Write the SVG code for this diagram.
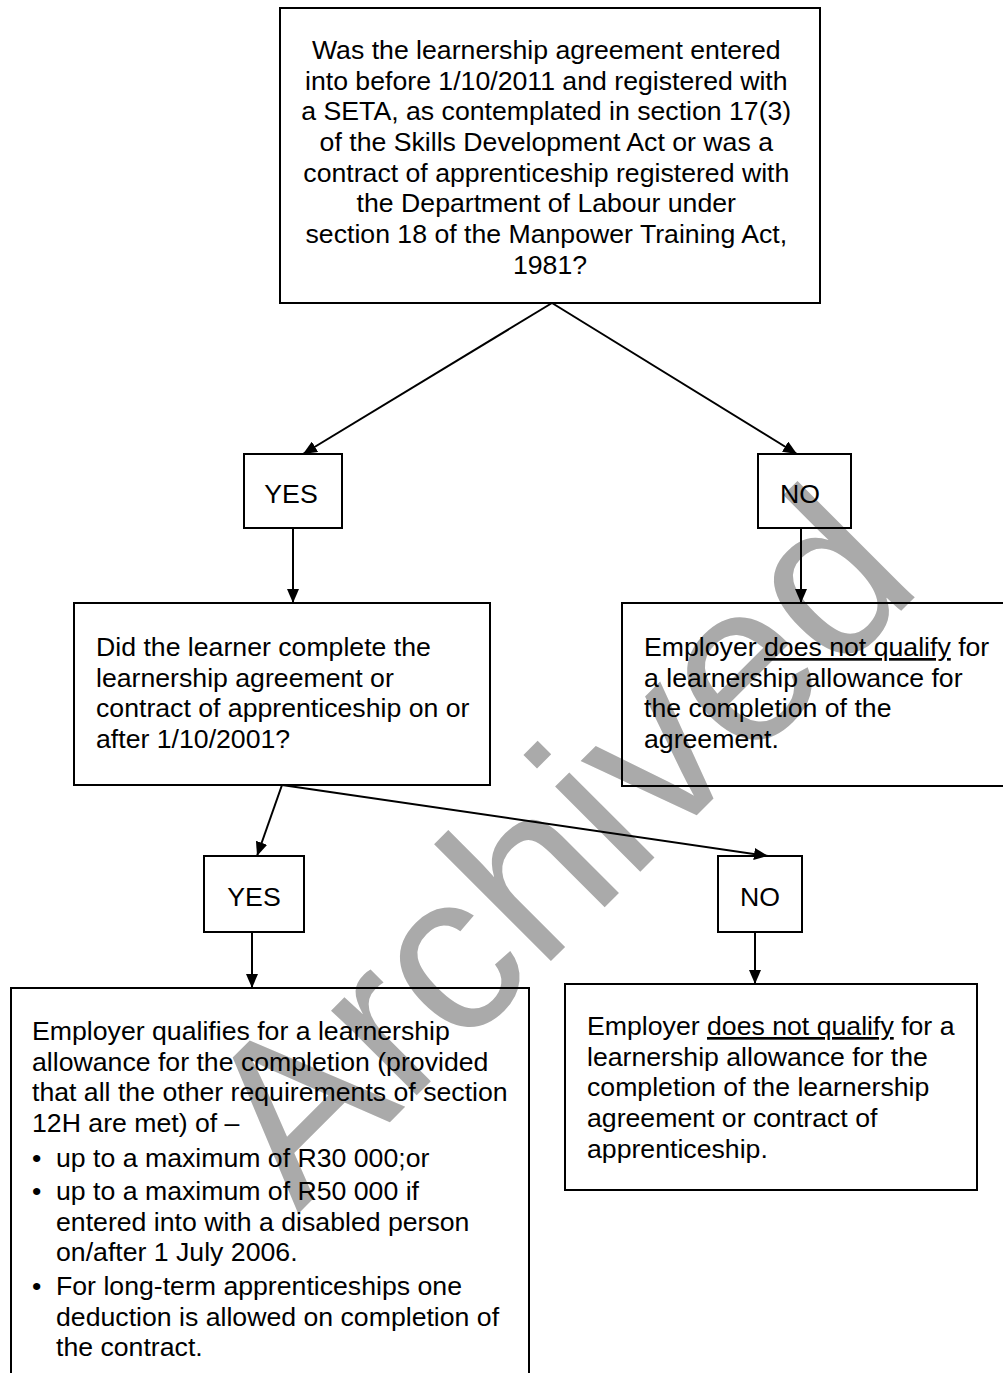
<svg xmlns="http://www.w3.org/2000/svg" width="1003" height="1373" viewBox="0 0 1003 1373">
<defs>
<style>
.box{fill:none;stroke:#000;stroke-width:2}
.t{font-family:"Liberation Sans",Arial,sans-serif;font-size:26.67px;fill:#000}
.c{text-anchor:middle}
.edge{stroke:#000;stroke-width:2;fill:none;marker-end:url(#ah)}
.wm{font-family:"Liberation Sans",Arial,sans-serif;font-size:228px;fill:#aaaaaa}
</style>
<marker id="ah" markerUnits="userSpaceOnUse" markerWidth="14" markerHeight="12" refX="14" refY="6" orient="auto">
<path d="M0,0 L14,6 L0,12 z" fill="#000"/>
</marker>
</defs>
<rect x="0" y="0" width="1003" height="1373" fill="#fff"/>
<text class="wm" transform="translate(298,1214) rotate(-45)">Archived</text>

<g id="q1">
<rect class="box" x="280" y="8" width="540" height="295"/>
<text class="t c">
<tspan x="550" y="59">Was the learnership agreement entered</tspan>
<tspan x="550" y="89.7">into before 1/10/2011 and registered with</tspan>
<tspan x="550" y="120.3">a SETA, as contemplated in section 17(3)</tspan>
<tspan x="550" y="151">of the Skills Development Act or was a</tspan>
<tspan x="550" y="181.7">contract of apprenticeship registered with</tspan>
<tspan x="550" y="212.3">the Department of Labour under</tspan>
<tspan x="550" y="243">section 18 of the Manpower Training Act,</tspan>
<tspan x="550" y="273.7">1981?</tspan>
</text>
</g>

<g id="yes1">
<rect class="box" x="244" y="454" width="98" height="74"/>
<text class="t c" x="291" y="503">YES</text>
</g>

<g id="no1">
<rect class="box" x="758" y="454" width="93" height="74"/>
<text class="t c" x="800" y="503">NO</text>
</g>

<g id="q2">
<rect class="box" x="74" y="603" width="416" height="182"/>
<text class="t">
<tspan x="96" y="656">Did the learner complete the</tspan>
<tspan x="96" y="686.7">learnership agreement or</tspan>
<tspan x="96" y="717.3">contract of apprenticeship on or</tspan>
<tspan x="96" y="748">after 1/10/2001?</tspan>
</text>
</g>

<g id="noqual1">
<rect class="box" x="622" y="603" width="400" height="183"/>
<text class="t">
<tspan x="644" y="656">Employer <tspan text-decoration="underline">does not qualify</tspan> for</tspan>
<tspan x="644" y="686.7">a learnership allowance for</tspan>
<tspan x="644" y="717.3">the completion of the</tspan>
<tspan x="644" y="748">agreement.</tspan>
</text>
</g>

<g id="yes2">
<rect class="box" x="204" y="856" width="100" height="76"/>
<text class="t c" x="254" y="906">YES</text>
</g>

<g id="no2">
<rect class="box" x="718" y="856" width="84" height="76"/>
<text class="t c" x="760" y="906">NO</text>
</g>

<g id="qual">
<rect class="box" x="11" y="988" width="518" height="400"/>
<text class="t">
<tspan x="32" y="1040">Employer qualifies for a learnership</tspan>
<tspan x="32" y="1070.7">allowance for the completion (provided</tspan>
<tspan x="32" y="1101.3">that all the other requirements of section</tspan>
<tspan x="32" y="1132">12H are met) of –</tspan>
</text>
<text class="t">
<tspan x="32" y="1167">•</tspan>
<tspan x="32" y="1200">•</tspan>
<tspan x="32" y="1295">•</tspan>
</text>
<text class="t">
<tspan x="56" y="1167">up to a maximum of R30 000;or</tspan>
<tspan x="56" y="1200">up to a maximum of R50 000 if</tspan>
<tspan x="56" y="1230.7">entered into with a disabled person</tspan>
<tspan x="56" y="1261.3">on/after 1 July 2006.</tspan>
<tspan x="56" y="1295">For long-term apprenticeships one</tspan>
<tspan x="56" y="1325.7">deduction is allowed on completion of</tspan>
<tspan x="56" y="1356.3">the contract.</tspan>
</text>
</g>

<g id="noqual2">
<rect class="box" x="565" y="984" width="412" height="206"/>
<text class="t">
<tspan x="587" y="1035">Employer <tspan text-decoration="underline">does not qualify</tspan> for a</tspan>
<tspan x="587" y="1065.7">learnership allowance for the</tspan>
<tspan x="587" y="1096.3">completion of the learnership</tspan>
<tspan x="587" y="1127">agreement or contract of</tspan>
<tspan x="587" y="1157.7">apprenticeship.</tspan>
</text>
</g>

<g id="connectors">
<line class="edge" x1="552" y1="303" x2="303" y2="454"/>
<line class="edge" x1="552" y1="303" x2="797" y2="454"/>
<line class="edge" x1="293" y1="528" x2="293" y2="603"/>
<line class="edge" x1="801" y1="528" x2="801" y2="603"/>
<line class="edge" x1="282" y1="785" x2="257" y2="856"/>
<line class="edge" x1="282" y1="785" x2="768" y2="856"/>
<line class="edge" x1="252" y1="932" x2="252" y2="988"/>
<line class="edge" x1="755" y1="932" x2="755" y2="984"/>
</g>
</svg>
